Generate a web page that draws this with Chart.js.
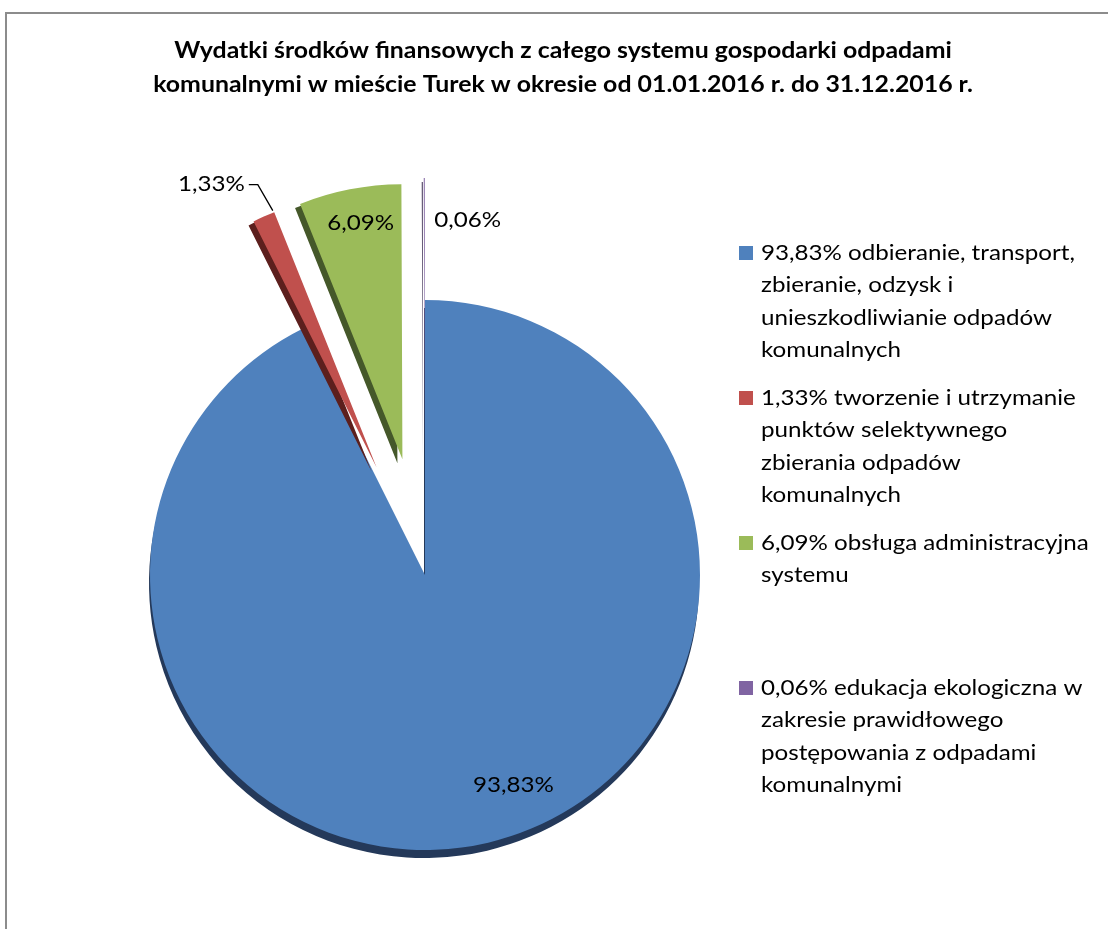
<!DOCTYPE html>
<html>
<head>
<meta charset="utf-8">
<script src="https://cdn.jsdelivr.net/npm/chart.js@4.4.0/dist/chart.umd.min.js"></script>
<style>
	body { margin: 0; background: #fff; }
	#wrap { position: relative; width: 1108px; height: 929px; }
</style>
</head>
<body>
<div id="wrap"><canvas id="myChart"></canvas></div>
<script>
const titleLines = [
	"Wydatki środków finansowych z całego systemu gospodarki odpadami",
	"komunalnymi w mieście Turek w okresie od 01.01.2016 r. do 31.12.2016 r.",
];
const values = [93.83, 1.33, 6.09, 0.06];
const valueLabels = ["93,83%", "1,33%", "6,09%", "0,06%"];
const categories = [
	["93,83% odbieranie, transport,", "zbieranie, odzysk i", "unieszkodliwianie odpadów", "komunalnych"],
	["1,33% tworzenie i utrzymanie", "punktów selektywnego", "zbierania odpadów", "komunalnych"],
	["6,09% obsługa administracyjna", "systemu"],
	["0,06% edukacja ekologiczna w", "zakresie prawidłowego", "postępowania z odpadami", "komunalnymi"],
];
const colors = ["#4F81BD", "#C0504D", "#9BBB59", "#8064A2"];
const depthColors = ["#24395a", "#5c1f1d", "#45582a", "#3d2f52"];
const depthShift = [[-1, 8], [-5, 4], [-5, 4], [-2, 4]];
// explode distance of each slice, px
const offsets = [0, 118, 118, 122];

// where each value label goes, relative to its slice
const labelPlace = [
	{ type: "inside", frac: 0.83, shift: -9.5 },
	{ type: "leader" },
	{ type: "inside", frac: 0.87, shift: 1 },
	{ type: "side" },
];

const font = "Lato";
const stretch = 1.15;
const titleStretch = 1.13;

// chart.js shrinks exploded slices, so move them here instead,
// and add a dark shade under each slice for the 3D look
const baseDraw = Chart.ArcElement.prototype.draw;
Chart.ArcElement.prototype.draw = function (ctx) {
	const i = colors.indexOf(this.options.backgroundColor);
	const opts = this.options;
	const ex = opts.offset || 0;
	const mid = (this.startAngle + this.endAngle) / 2;
	this.options = Object.assign({}, opts, { offset: 0 });
	ctx.save();
	ctx.translate(Math.cos(mid) * ex, Math.sin(mid) * ex);
	ctx.shadowColor = depthColors[i] || "#333";
	ctx.shadowOffsetX = depthShift[i] ? depthShift[i][0] : 0;
	ctx.shadowOffsetY = depthShift[i] ? depthShift[i][1] : 0;
	ctx.shadowBlur = 0;
	baseDraw.call(this, ctx);
	ctx.restore();
	this.options = opts;
};

const wideText = (c, text, x, y, sx = stretch) => {
	c.save();
	c.translate(x, y);
	c.scale(sx, 1);
	c.fillText(text, 0, 0);
	c.restore();
};

const framePlugin = {
	id: "frame",
	beforeDraw: (chart) => {
		const c = chart.ctx;
		c.save();
		c.fillStyle = "#fff";
		c.fillRect(0, 0, chart.width, chart.height);
		c.strokeStyle = "#8c8c8c";
		c.lineWidth = 2;
		c.beginPath();
		c.moveTo(6, chart.height + 2);
		c.lineTo(6, 13);
		c.lineTo(chart.width + 2, 13);
		c.stroke();
		// title
		c.fillStyle = "#000";
		c.font = `bold 22px ${font}`;
		c.textAlign = "center";
		c.textBaseline = "middle";
		titleLines.forEach((t, i) => wideText(c, t, 563, 51 + i * 34, titleStretch));
		c.restore();
	},
};

const labelsPlugin = {
	id: "valueLabels",
	afterDraw: (chart) => {
		const c = chart.ctx;
		const arcs = chart.getDatasetMeta(0).data;
		c.save();
		c.font = `21px ${font}`;
		c.fillStyle = "#000";
		c.textBaseline = "middle";
		arcs.forEach((arc, i) => {
			const p = labelPlace[i];
			const mid = (arc.startAngle + arc.endAngle) / 2;
			const ex = arc.options.offset || 0;
			const cx = arc.x + Math.cos(mid) * ex;
			const cy = arc.y + Math.sin(mid) * ex;
			const r = arc.outerRadius;
			if (p.type === "inside") {
				const a = mid + (p.shift * Math.PI) / 180;
				c.textAlign = "center";
				wideText(c, valueLabels[i], cx + Math.cos(a) * r * p.frac, cy + Math.sin(a) * r * p.frac);
			} else if (p.type === "leader") {
				const x0 = cx + Math.cos(mid) * r + 9;
				const y0 = cy + Math.sin(mid) * r - 6;
				const x1 = x0 - 15;
				const y1 = y0 - 26;
				c.strokeStyle = "#000";
				c.lineWidth = 1.3;
				c.beginPath();
				c.moveTo(x0, y0);
				c.lineTo(x1, y1);
				c.lineTo(x1 - 9, y1);
				c.stroke();
				c.textAlign = "right";
				wideText(c, valueLabels[i], x1 - 13, y1);
			} else {
				c.textAlign = "left";
				wideText(c, valueLabels[i], cx + Math.cos(mid) * r + 10, cy + Math.sin(mid) * r + 42);
			}
		});
		c.restore();
	},
};

const legendPlugin = {
	id: "sideLegend",
	afterDraw: (chart) => {
		const c = chart.ctx;
		c.save();
		c.font = `21px ${font}`;
		c.textBaseline = "middle";
		c.textAlign = "left";
		categories.forEach((lines, i) => {
			const top = 253 + i * 145;
			c.fillStyle = colors[i];
			c.fillRect(739, top - 7, 14, 14);
			c.fillStyle = "#000";
			lines.forEach((line, j) => wideText(c, line, 761, top + j * 32.5));
		});
		c.restore();
	},
};

const ctx = document.getElementById("myChart");
const myChart = new Chart(ctx, {
	type: "pie",
	data: {
		labels: categories.map((l) => l.join(" ")),
		datasets: [
			{
				data: values,
				backgroundColor: colors,
				borderWidth: 0,
				offset: offsets,
				hoverOffset: 0,
			},
		],
	},
	options: {
		responsive: true,
		maintainAspectRatio: false,
		animation: false,
		radius: 275,
		layout: {
			padding: { top: 240, bottom: 19, left: 90, right: 348 },
		},
		plugins: {
			legend: { display: false },
			title: { display: false },
			tooltip: { enabled: false },
		},
		events: [],
	},
	plugins: [framePlugin, labelsPlugin, legendPlugin],
});
</script>
</body>
</html>
